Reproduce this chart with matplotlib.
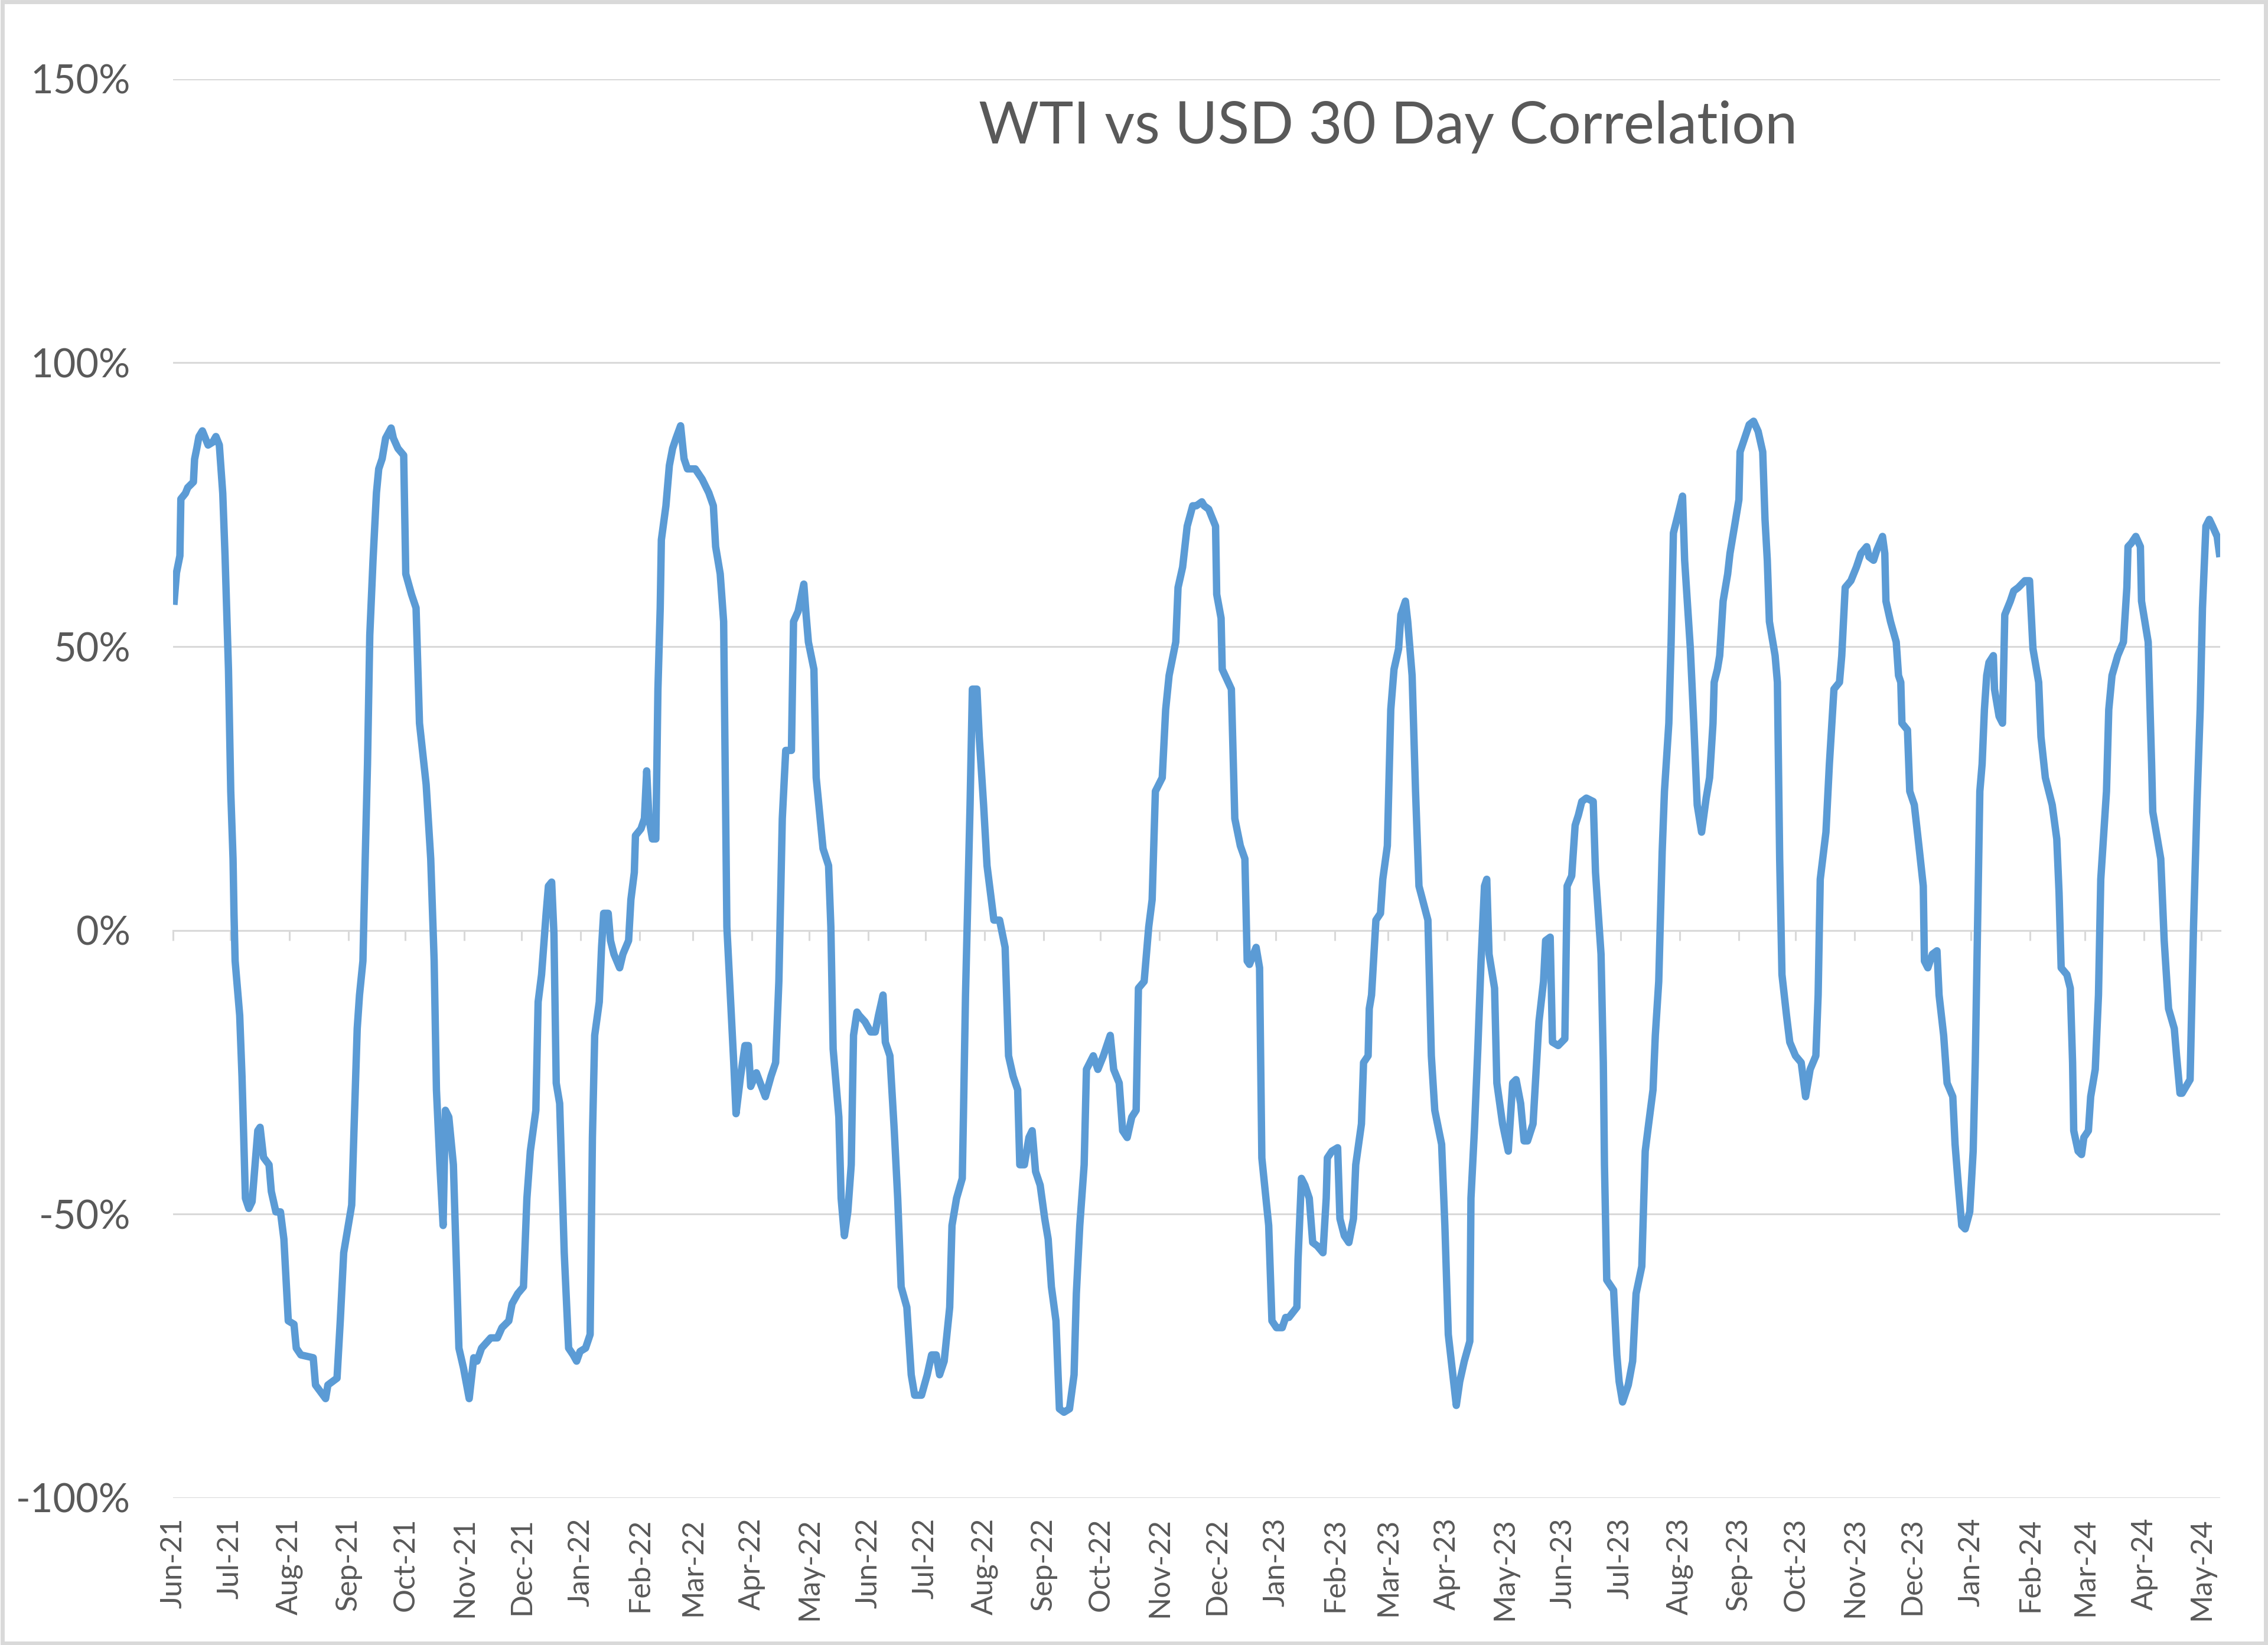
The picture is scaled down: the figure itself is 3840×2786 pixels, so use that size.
import numpy as np
import pandas as pd
import matplotlib
matplotlib.use("Agg")
import matplotlib.pyplot as plt
import matplotlib.dates as mdates
from matplotlib.ticker import FuncFormatter, MultipleLocator
from matplotlib.patches import Rectangle

plt.rcParams['font.family'] = ['Lato', 'DejaVu Sans']

# x values: days after 2021-06-01
start_date = "2021-06-01"
day_offset = [
    0.6, 1.8, 3.6, 4.1, 6.5, 7.7, 10.7, 11.3, 12.5, 13.6, 15.4, 17.2, 18.4, 20.8, 22.5, 24.3,
    26.1, 27.3, 29.1, 30.3, 31.5, 32.0, 32.6, 35.0, 36.2, 38.0, 39.8, 41.5, 44.5, 45.7, 47.5,
    50.4, 51.6, 54.0, 56.4, 58.2, 60.5, 63.5, 64.7, 67.1, 73.6, 74.8, 80.1, 81.3, 86.1, 87.8,
    89.6, 92.0, 93.8, 95.0, 96.7, 97.9, 99.7, 100.9, 102.1, 103.3, 105.0, 106.8, 108.0, 109.8,
    111.6, 114.5, 115.7, 118.1, 121.1, 122.2, 125.2, 127.6, 129.4, 132.9, 135.3, 137.1, 138.3,
    140.1, 141.8, 143.0, 144.8, 147.2, 150.1, 152.5, 155.5, 157.9, 159.6, 162.0, 166.8, 170.3,
    172.7, 176.3, 178.0,
    181.0, 184.0, 185.8, 187.6, 190.5, 191.7, 193.5, 195.9, 197.1, 198.8, 200.0, 201.2, 203.0,
    205.4, 207.7, 210.1, 211.9, 213.7, 216.6, 219.0, 220.2, 221.4, 223.8, 225.0, 226.1, 228.5,
    229.7, 231.5, 234.5, 236.2, 239.2, 240.4, 242.2, 242.8, 245.7, 247.5, 248.7, 249.9, 251.7,
    253.5, 254.6, 255.8, 256.4, 258.8, 260.6, 262.3, 264.1, 266.5, 268.3, 270.1, 274.2, 277.8,
    281.3, 283.7, 284.9, 287.3, 289.1, 290.8, 292.6, 294.4, 295.6, 298.0, 300.3, 302.1, 303.3,
    306.3, 311.0, 314.0, 316.4, 318.1, 319.9, 321.7, 324.7, 325.8, 328.2, 331.2, 332.4, 333.6,
    336.5, 337.7, 341.3, 344.2, 345.4, 346.6, 349.6, 350.8, 352.5, 354.3, 356.1, 357.3, 359.1,
    360.3, 363.3, 366.3, 368.7, 370.4, 372.8, 374.0, 376.4, 378.7, 380.5, 382.3, 385.3, 387.6,
    389.4, 393.0, 396.0, 398.3, 400.7, 402.5, 404.9, 407.8, 409.0, 411.4, 414.4, 415.0, 416.1,
    417.3, 418.5, 419.7, 422.1, 423.3, 425.6, 427.4, 429.2, 431.0, 434.0, 436.9, 438.7, 441.1,
    443.5, 444.6, 447.0, 449.4, 451.1, 452.9, 455.3, 457.7, 459.5, 461.2, 463.6, 465.4, 467.8,
    470.7, 473.1, 474.3, 476.1, 478.4, 479.6, 483.2, 485.6, 488.5, 492.1, 493.9, 496.8, 498.6,
    501.0, 503.4, 505.7, 506.9, 509.9, 512.3, 514.1, 515.8, 519.4, 521.2, 523.0, 526.5, 527.7,
    530.1, 532.5, 535.4,
    537.3, 540.2, 541.4, 543.8, 547.4, 548.0, 550.3, 550.9, 555.7, 557.5, 560.4, 562.8, 564.0,
    565.2, 568.7, 570.5, 571.7, 575.3, 577.0, 579.4, 582.4, 584.2, 585.9, 590.1, 590.7, 592.5,
    594.3, 596.6, 598.4, 600.8, 603.8, 605.5, 606.1, 608.5, 611.5, 612.7, 615.0, 617.4, 619.8,
    621.0, 624.0, 625.1, 627.5, 628.1, 629.3, 631.6, 634.0, 635.2, 637.6, 639.4, 641.1, 643.5,
    644.7, 647.1, 648.3, 650.6, 652.4, 654.2, 658.9, 660.7, 662.5, 666.1, 667.8, 669.6, 672.0,
    673.8, 675.6, 678.0, 680.9, 681.5, 683.3, 685.1, 686.8, 688.6, 689.8, 691.0, 693.9, 695.1,
    698.1, 701.1, 703.4, 705.2, 707.6, 709.4, 711.2, 714.1,
    717.2, 719.6, 720.7, 723.1, 724.3, 727.3, 730.8, 732.0, 734.4, 736.2, 737.9, 739.7, 742.1,
    745.7, 746.9, 749.8, 751.0, 751.6, 752.8, 756.4, 758.1, 759.3, 761.1, 764.1, 766.4, 768.2,
    771.2, 773.0, 774.8, 777.1, 778.3, 780.1, 781.9, 783.1, 785.4, 786.6, 787.8, 789.6, 792.6,
    793.7, 796.7, 798.5, 800.3, 802.6, 805.0, 806.8, 808.6, 809.2, 810.9, 812.1, 813.9, 816.3,
    817.5, 819.9, 822.2, 822.8, 825.2, 827.6, 829.9, 832.3, 834.7, 835.9, 837.1, 838.2, 841.2,
    842.4, 843.6, 844.8, 847.2, 848.9, 851.9, 854.9, 857.2, 859.6, 862.6, 863.8, 864.9, 867.9,
    869.7, 872.1, 875.0, 876.2, 878.0, 881.0, 883.9, 886.3, 889.3, 890.5, 892.9, 894.6, 897.6,
    898.8, 899.4,
    901.8, 904.8, 906.0, 907.2, 907.8, 910.7, 911.9, 914.3, 916.7, 919.0, 919.6, 921.4, 923.8,
    926.2, 927.3, 929.7, 931.5, 934.5, 935.7, 937.4, 939.2, 941.0, 943.4, 945.2, 946.3, 947.5,
    948.7, 949.9, 951.1, 952.3, 953.5, 955.8, 956.4, 958.8, 960.6, 961.8, 964.7, 966.5, 968.9,
    972.4, 974.8, 976.6, 979.6, 980.8, 983.1, 986.7, 989.1, 990.3, 991.4, 994.4, 996.2, 997.4,
    998.0, 1000.3, 1002.1, 1003.3, 1005.7, 1006.9, 1009.3, 1011.0, 1012.2, 1015.2, 1016.4,
    1018.1, 1021.1, 1024.1, 1025.9, 1026.5, 1028.2, 1030.6, 1033.0, 1033.6, 1037.1, 1038.9,
    1039.5, 1043.7, 1045.5, 1047.8, 1050.8, 1052.0, 1053.8, 1054.9, 1059.1, 1060.9, 1062.7,
    1064.4, 1065.6, 1067.4, 1069.2, 1070.9, 1073.3, 1074.5,
]

# 30 day correlation, percent
corr = [
    58, 63, 66, 76, 77, 78, 79, 83, 85, 87, 88, 86.5, 85.5, 86, 87, 85.5,
    77, 66, 46, 24.5, 12.6, 3, -5.4, -15, -25.7, -47.2, -49, -47.8, -35.3, -34.7, -40,
    -41.3, -46, -49.6, -49.6, -54.4, -68.8, -69.4, -73.6, -74.8, -75.3, -80.1, -82.5, -80.1, -78.9, -68.8,
    -56.8, -52, -48.4, -35.3, -17.3, -11.4, -5.4, 12.6, 29.3, 52, 65.2, 77.1, 81.3, 83.1,
    86.7, 88.5, 86.7, 84.9, 83.7, 62.8, 59.2, 56.8, 36.5, 25.7, 12.6, -5.4, -28.1,
    -41.3, -52, -31.7, -32.9, -41.3, -73.6, -77.1, -82.5, -75.3, -75.9, -73.6, -71.8, -71.8,
    -70, -68.8, -65.8,
    -64.0, -62.8, -47.2, -38.9, -31.7, -12.6, -7.8, 3.0, 7.8, 8.5, -0.6, -26.9, -30.5,
    -56.8, -73.6, -74.8, -75.9, -74.2, -73.6, -71.2, -36.5, -18.5, -12.6, -3.0, 3.0, 3.0,
    -1.8, -4.2, -6.6, -4.2, -1.8, 5.4, 10.2, 16.7, 17.9, 19.7, 28.1, 19.7, 16.1,
    16.1, 42.5, 56.8, 68.8, 74.8, 81.9, 84.9, 86.7, 88.9, 83.1, 81.3, 81.3, 79.5,
    77.1, 74.8, 67.6, 62.8, 54.4, 0.6, -11.4, -23.3, -32.3, -25.7, -20.3, -20.3, -27.5,
    -25.1, -29.3, -25.7, -23.3, -9.0, 19.7, 31.7, 31.7, 54.4, 56.2, 61.0, 55.6, 50.8,
    46.0, 26.9, 14.4, 11.4, 0.6, -20.9, -32.9, -47.2, -53.8, -49.6, -41.3, -18.5, -14.4,
    -15.0, -16.1, -17.9, -17.9, -15.0, -11.4, -19.7, -22.1, -35.3, -47.2, -62.8, -66.4, -78.3,
    -81.9, -81.9, -78.3, -74.8, -74.8, -78.3, -75.9, -66.4, -52.0, -47.2, -43.7, -32.9, -11.4,
    5.4, 22.1, 42.5, 42.5, 34.1, 22.1, 11.4, 6.6, 1.8, 1.8, -3.0, -22.1, -25.7,
    -28.1, -41.3, -41.3, -36.5, -35.3, -42.5, -44.9, -50.8, -54.4, -62.8, -68.8, -84.3, -84.9,
    -84.3, -78.3, -64.0, -52.0, -41.3, -24.5, -22.1, -24.5, -22.1, -18.5, -24.5, -26.9, -35.3,
    -36.5, -32.9, -31.7, -10.2, -9.0, 0.6, 5.4, 24.5, 26.9, 38.9, 44.9, 50.8, 60.4,
    64.0, 71.2, 74.8,
    74.8, 75.5, 74.8, 74.2, 71.2, 59.2, 55.0, 46.0, 42.5, 19.7, 14.9, 12.6, -5.4,
    -6.0, -3.0, -6.6, -40.1, -52.0, -68.8, -70.0, -70.0, -68.2, -68.2, -66.4, -58.0, -43.7,
    -44.9, -47.2, -55.0, -55.6, -56.8, -47.2, -40.1, -38.9, -38.3, -50.8, -53.8, -55.0, -50.8,
    -41.3, -34.1, -23.3, -22.1, -13.8, -11.4, 1.8, 3.0, 9.0, 14.9, 38.9, 46.0, 49.6,
    55.6, 58.0, 54.4, 44.9, 24.5, 7.8, 1.8, -22.1, -31.7, -37.7, -52.0, -71.2, -78.3,
    -83.7, -79.5, -75.9, -72.4, -47.2, -35.3, -20.9, -5.4, 7.8, 9.0, -4.2, -10.2, -26.9,
    -34.1, -38.9, -26.9, -26.3, -30.5, -37.1, -37.1, -34.1,
    -16.1, -9.0, -1.8, -1.2, -19.7, -20.3, -19.1, 7.8, 9.6, 18.5, 20.3, 22.7, 23.3,
    22.7, 10.2, -4.2, -23.3, -41.3, -61.6, -63.4, -74.8, -79.5, -83.1, -80.1, -75.9, -64.0,
    -59.2, -38.9, -34.1, -28.1, -18.5, -9.0, 13.8, 24.5, 36.5, 50.8, 70.0, 72.4, 76.5,
    65.2, 49.6, 36.5, 22.1, 17.3, 23.3, 26.9, 36.5, 43.7, 46.0, 48.4, 58.0, 62.8,
    66.4, 71.2, 75.9, 84.3, 86.7, 89.1, 89.7, 87.9, 84.3, 72.4, 65.2, 54.4, 48.4,
    43.7, 12.6, -7.8, -15.0, -19.7, -22.1, -23.3, -29.3, -24.5, -22.1, -11.4, 9.0, 17.3,
    29.3, 42.5, 43.7, 48.4, 60.4, 61.6, 64.0, 66.4, 67.6, 65.8, 65.2, 67.0, 69.4,
    66.4, 58.0,
    54.4, 50.8, 44.9, 43.7, 36.5, 35.3, 24.5, 22.1, 14.9, 7.8, -5.4, -6.6, -4.2,
    -3.6, -11.4, -18.5, -26.9, -29.3, -37.7, -44.9, -52.0, -52.6, -49.6, -38.9, -23.3, 0.6,
    24.5, 29.3, 38.9, 44.9, 47.2, 48.4, 42.5, 37.7, 36.5, 55.6, 58.0, 59.8, 60.4,
    61.6, 61.6, 49.6, 43.7, 34.1, 26.9, 22.1, 16.1, 6.6, -6.6, -7.8, -10.2, -23.3,
    -35.3, -38.9, -39.5, -36.5, -35.3, -29.3, -24.5, -11.4, 9.0, 24.5, 38.9,
    44.9, 48.4, 50.8, 60.4, 67.6, 68.2, 69.4, 67.6, 58.0, 50.8, 29.3,
    20.9, 12.6, -1.8, -13.8, -17.3, -22.1, -28.7, -28.7, -26.3, 0.6, 22.1,
    38.9, 56.8, 71.2, 72.4, 71.2, 69.4, 66.4,
]

title = "WTI vs USD 30 Day Correlation"

dates = pd.Timestamp(start_date) + pd.to_timedelta(np.array(day_offset), unit="D")

line_color = "#5B9BD5"
grid_color = "#D9D9D9"
text_color = "#595959"

fig = plt.figure(figsize=(19.2, 13.93), dpi=200)
ax = fig.add_axes([0.0763, 0.0894, 0.9027, 0.8626])

ax.plot(dates, corr, color=line_color, lw=4.5, solid_joinstyle="round", zorder=3)

ymin, ymax = -100, 150
ax.set_ylim(ymin, ymax)
ax.set_xlim(pd.Timestamp(start_date), pd.Timestamp(start_date) + pd.Timedelta(days=1075))

ax.yaxis.set_major_locator(MultipleLocator(50))
ax.yaxis.set_major_formatter(FuncFormatter(lambda v, p: f"{v:.0f}%"))
ax.grid(axis="y", color=grid_color, lw=1.1, zorder=0)
ax.tick_params(axis="y", length=0, pad=26, labelsize=24, labelcolor=text_color)

ax.xaxis.set_major_locator(mdates.MonthLocator())
ax.xaxis.set_major_formatter(mdates.DateFormatter("%b-%y"))
ax.tick_params(axis="x", length=0, pad=12, labelsize=18, labelcolor=text_color,
               labelrotation=90)

for s in ax.spines.values():
    s.set_visible(False)

# horizontal axis line at 0 with month tick marks
zero_pos = (0 - ymin) / (ymax - ymin)
sec = ax.secondary_xaxis(zero_pos)
sec.set_alignment("bottom")
sec.xaxis.set_major_locator(mdates.MonthLocator())
sec.tick_params(axis="x", direction="out", length=6, width=1.1, color=grid_color,
                labelbottom=False, labeltop=False)
for s in sec.spines.values():
    s.set_color(grid_color)
    s.set_linewidth(1.1)

fig.text(0.612, 0.923, title, ha="center", va="center", fontsize=35.5, color=text_color)

# light chart border
fig.patches.append(Rectangle((0.001, 0.001), 0.998, 0.998, transform=fig.transFigure,
                             fill=False, edgecolor=grid_color, lw=2.5))

fig.savefig("out.png", dpi=200, facecolor="white")
